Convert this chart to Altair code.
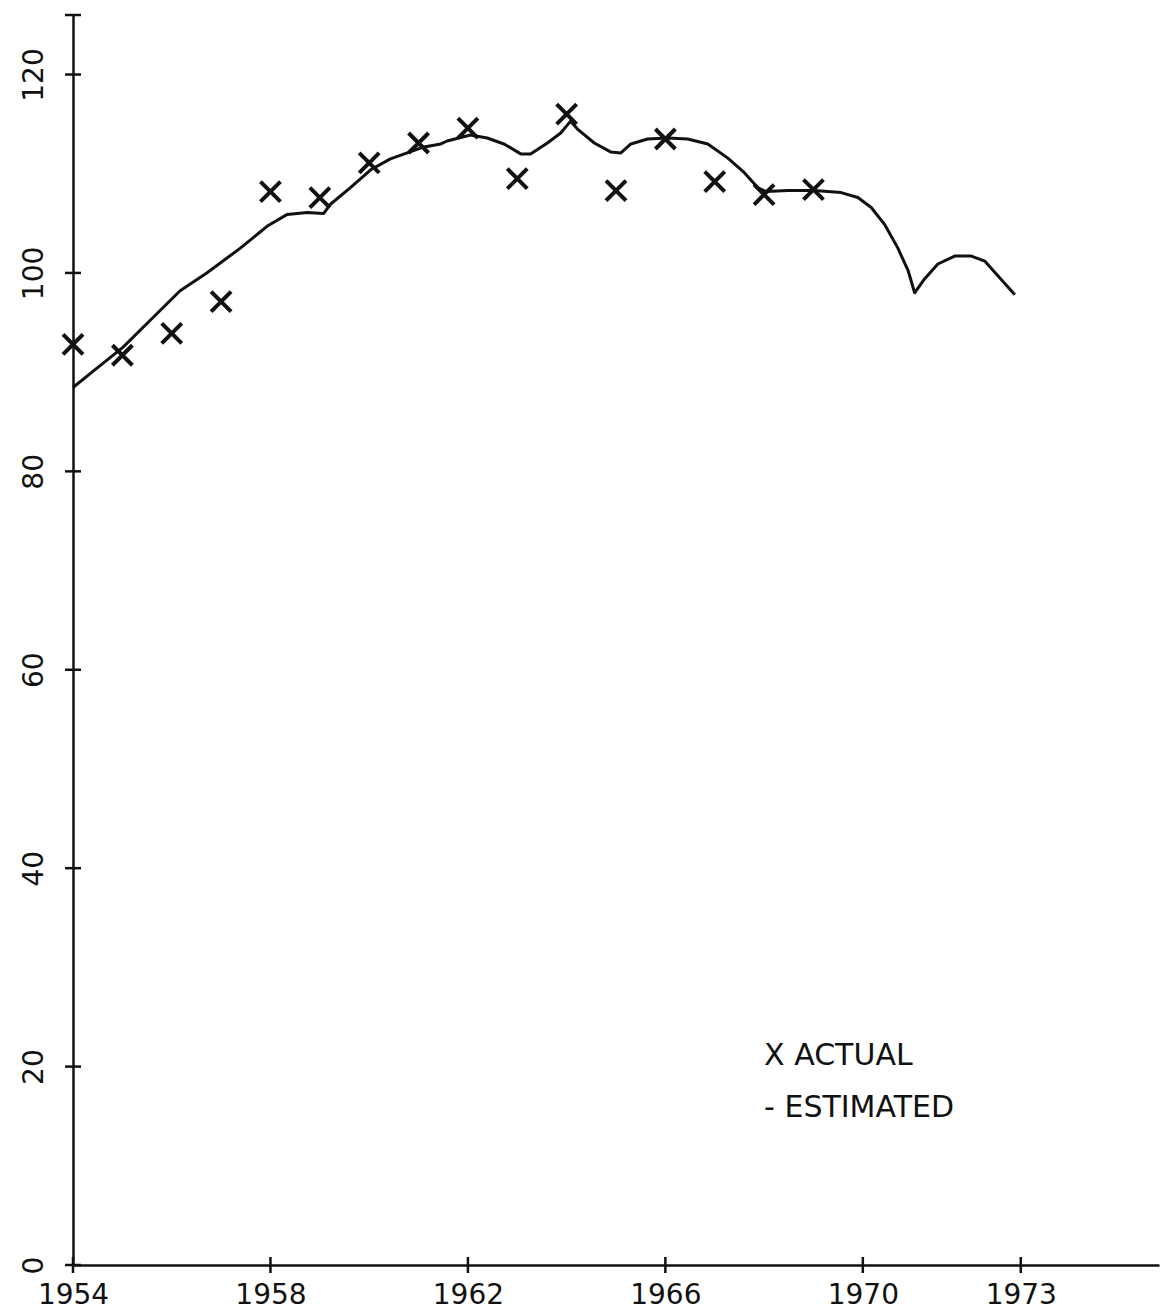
import altair as alt
import pandas as pd

# ---- data ----
actual_years = list(range(1954, 1970))
actual_values = [92.8, 91.7, 93.9, 97.1, 108.2, 107.6, 111.1, 113.1,
                 114.6, 109.5, 116.0, 108.3, 113.5, 109.2, 107.9, 108.4]

est_years = [1954.00, 1954.41, 1955.01, 1955.56, 1956.17, 1956.71, 1957.39, 1957.93,
             1958.34, 1958.74, 1959.08, 1959.21, 1959.62, 1960.03, 1960.43, 1960.77,
             1961.11, 1961.45, 1961.58, 1962.05, 1962.39, 1962.73, 1963.07, 1963.27,
             1963.61, 1963.88, 1964.08, 1964.22, 1964.56, 1964.89, 1965.10, 1965.30,
             1965.64, 1966.04, 1966.45, 1966.86, 1967.26, 1967.60, 1967.87, 1968.04,
             1968.48, 1969.02, 1969.56, 1969.90, 1970.17, 1970.44, 1970.71, 1970.92,
             1971.05, 1971.25, 1971.52, 1971.86, 1972.20, 1972.47, 1972.74, 1973.08]
est_values = [88.45, 90.1, 92.5, 95.2, 98.2, 100.0, 102.5, 104.7,
              105.9, 106.1, 106.0, 106.9, 108.6, 110.4, 111.5, 112.1,
              112.7, 113.0, 113.3, 113.9, 113.6, 113.0, 112.0, 112.0,
              113.1, 114.1, 115.3, 114.5, 113.1, 112.2, 112.1, 113.0,
              113.5, 113.6, 113.5, 113.0, 111.6, 110.1, 108.6, 108.2,
              108.3, 108.3, 108.1, 107.6, 106.6, 104.9, 102.5, 100.2,
              98.0, 99.4, 100.9, 101.7, 101.7, 101.2, 99.7, 97.8]

x_tick_years = [1954, 1958, 1962, 1966, 1970, 1973.2]
y_tick_values = [0, 20, 40, 60, 80, 100, 120]
y_end_tick = [126]

legend_labels = ["X ACTUAL", "- ESTIMATED"]
legend_years = [1968.0, 1968.0]
legend_values = [21.1, 15.8]

FONT = "DejaVu Sans"
INK = "#111111"

actual_df = pd.DataFrame({"year": actual_years, "value": actual_values})
est_df = pd.DataFrame({"year": est_years, "value": est_values, "i": range(len(est_years))})
xt_df = pd.DataFrame({"year": x_tick_years, "value": [0] * len(x_tick_years)})
yt_df = pd.DataFrame({"year": [1954] * (len(y_tick_values) + 1), "value": y_tick_values + y_end_tick})
leg_df = pd.DataFrame({"label": legend_labels, "year": legend_years, "value": legend_values})

xscale = alt.Scale(domain=[1954, 1976], nice=False, zero=False)
yscale = alt.Scale(domain=[0, 126], nice=False, zero=False)

xaxis = alt.Axis(values=x_tick_years, labelExpr="'' + floor(datum.value)", title="",
                 labelPadding=16, labelFontSize=28, labelFlush=False, labelOverlap=False,
                 grid=False, ticks=False, tickSize=0)
yaxis = alt.Axis(values=y_tick_values, labelAngle=270, labelAlign="center",
                 labelBaseline="alphabetic", labelPadding=31, title="",
                 labelFontSize=28, labelFlush=False, labelOverlap=False,
                 grid=False, ticks=False, tickSize=0)

base_x = alt.X("year:Q", scale=xscale, axis=xaxis)
base_y = alt.Y("value:Q", scale=yscale, axis=yaxis)

line = alt.Chart(est_df).mark_line(color=INK, strokeWidth=3, strokeJoin="round").encode(
    x=base_x, y=base_y, order="i:Q")

points = alt.Chart(actual_df).mark_point(
    shape="M -1 -1 L 1 1 M -1 1 L 1 -1", filled=False, stroke=INK,
    strokeWidth=4, size=400, opacity=1).encode(
    x=alt.X("year:Q", scale=xscale), y=alt.Y("value:Q", scale=yscale))

xticks = alt.Chart(xt_df).mark_point(
    shape="M 0 -1 L 0 1", filled=False, stroke=INK, strokeWidth=2.5,
    size=256, opacity=1).encode(
    x=alt.X("year:Q", scale=xscale), y=alt.Y("value:Q", scale=yscale))

yticks = alt.Chart(yt_df).mark_point(
    shape="M -1 0 L 1 0", filled=False, stroke=INK, strokeWidth=2.5,
    size=256, opacity=1).encode(
    x=alt.X("year:Q", scale=xscale), y=alt.Y("value:Q", scale=yscale))

legend = alt.Chart(leg_df).mark_text(align="left", baseline="middle", font=FONT,
                                     fontSize=30, color=INK).encode(
    x=alt.X("year:Q", scale=xscale), y=alt.Y("value:Q", scale=yscale), text="label:N")

chart = alt.layer(line, points, xticks, yticks, legend).properties(
    width=1086, height=1250,
    autosize=alt.AutoSizeParams(type="none"),
    padding={"left": 73, "top": 15, "right": 9, "bottom": 49},
    background="white",
).configure_view(stroke=None).configure_axis(
    domainColor=INK, domainWidth=2.5, labelColor=INK, labelFont=FONT,
)

chart.save("out.html", embed_options={"renderer": "svg", "actions": False})
